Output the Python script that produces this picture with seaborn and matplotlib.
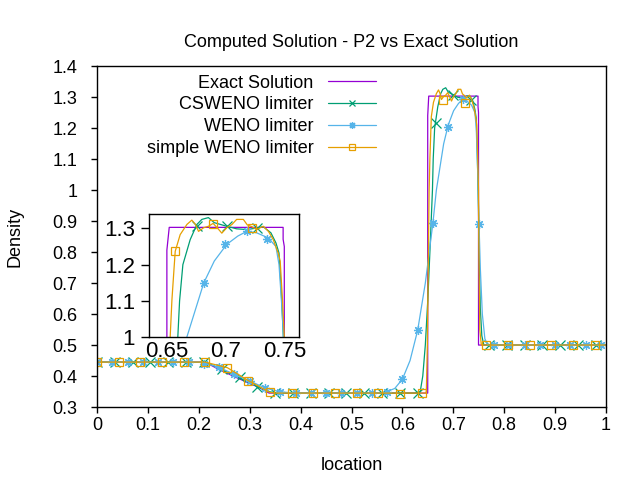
import matplotlib
matplotlib.use('Agg')
import matplotlib.pyplot as plt
from matplotlib.lines import Line2D
from matplotlib.ticker import FormatStrFormatter
import seaborn as sns

# exact solution
exact_x = [0.0, 0.212, 0.24, 0.27, 0.30, 0.32, 0.338, 0.6497, 0.6497, 0.6517, 0.7485, 0.7485, 0.7495, 0.7495, 1.0]
exact_y = [0.445, 0.445, 0.421, 0.398, 0.376, 0.362, 0.345, 0.345, 1.24, 1.303, 1.303, 1.27, 1.25, 0.5, 0.5]

# CSWENO limiter
csw_x = [0.0, 0.215, 0.24, 0.27, 0.30, 0.32, 0.34, 0.355, 0.625, 0.635, 0.640, 0.645, 0.650, 0.655,
         0.659, 0.6605, 0.6633, 0.6695, 0.6752, 0.6794, 0.685, 0.69, 0.7006, 0.709, 0.7176, 0.726,
         0.7316, 0.7381, 0.7424, 0.745, 0.747, 0.749, 0.751, 0.753, 0.756, 0.76, 1.0]
csw_y = [0.445, 0.444, 0.425, 0.401, 0.378, 0.362, 0.349, 0.345, 0.345, 0.35, 0.40, 0.50, 0.65, 0.84,
         1.0, 1.1, 1.2, 1.269, 1.311, 1.325, 1.33, 1.316, 1.306, 1.299, 1.297, 1.301,
         1.305, 1.288, 1.26, 1.232, 1.12, 0.98, 0.78, 0.62, 0.53, 0.5, 0.5]
csw_mx = [0.0, 0.035, 0.07, 0.105, 0.14, 0.175, 0.21, 0.245, 0.28, 0.315, 0.35, 0.385, 0.42, 0.455,
          0.49, 0.525, 0.56, 0.595, 0.63, 0.665, 0.70, 0.735, 0.77, 0.805, 0.84, 0.875, 0.91, 0.945, 0.98]
csw_my = [0.445, 0.445, 0.445, 0.445, 0.445, 0.445, 0.445, 0.423, 0.398, 0.366, 0.346, 0.345, 0.345, 0.345,
          0.345, 0.345, 0.345, 0.345, 0.345, 1.217, 1.306, 1.292, 0.5, 0.5, 0.5, 0.5, 0.5, 0.5, 0.5]
csw_ix = [0.675, 0.7006, 0.726]
csw_iy = [1.308, 1.306, 1.301]

# WENO limiter
weno_x = [0.0, 0.20, 0.215, 0.24, 0.27, 0.30, 0.33, 0.36, 0.39, 0.56, 0.57, 0.585, 0.60, 0.615, 0.63,
          0.645, 0.655, 0.66, 0.6667, 0.681, 0.69, 0.7006, 0.71, 0.7176, 0.726, 0.7358, 0.7424,
          0.745, 0.7475, 0.7505, 0.753, 0.757, 0.762, 0.768, 1.0]
weno_y = [0.445, 0.445, 0.44, 0.428, 0.405, 0.384, 0.362, 0.349, 0.345, 0.345, 0.35, 0.36, 0.39, 0.45, 0.548,
          0.70, 0.83, 0.895, 1.0, 1.149, 1.21, 1.256, 1.279, 1.292, 1.288, 1.274, 1.25,
          1.2, 1.08, 0.89, 0.75, 0.6, 0.52, 0.5, 0.5]
weno_mx = [0.0, 0.03, 0.06, 0.09, 0.12, 0.15, 0.18, 0.21, 0.24, 0.27, 0.30, 0.33, 0.36, 0.39, 0.42,
           0.45, 0.48, 0.51, 0.54, 0.57, 0.60, 0.63, 0.66, 0.69, 0.72, 0.75, 0.78, 0.81, 0.84,
           0.87, 0.90, 0.93, 0.96, 0.99]
weno_my = [0.445, 0.445, 0.445, 0.445, 0.445, 0.445, 0.445, 0.44, 0.428, 0.405, 0.384, 0.362, 0.349, 0.345, 0.345,
           0.345, 0.345, 0.345, 0.345, 0.35, 0.39, 0.548, 0.895, 1.204, 1.293, 0.89, 0.5, 0.5, 0.5,
           0.5, 0.5, 0.5, 0.5, 0.5]
weno_ix = [0.681, 0.6992, 0.7176, 0.7347]
weno_iy = [1.149, 1.257, 1.293, 1.27]

# simple WENO limiter
sim_x = [0.0, 0.212, 0.256, 0.2986, 0.34, 0.35, 0.645, 0.647, 0.649, 0.651, 0.6525, 0.654, 0.6558,
         0.6568, 0.661, 0.6667, 0.6709, 0.674, 0.6766, 0.681, 0.685, 0.689, 0.693, 0.6964, 0.7006,
         0.705, 0.709, 0.7147, 0.718, 0.7218, 0.726, 0.7316, 0.736, 0.740, 0.7443, 0.746, 0.748,
         0.7495, 0.7505, 0.752, 0.755, 1.0]
sim_y = [0.445, 0.445, 0.427, 0.384, 0.347, 0.345, 0.345, 0.35, 0.5, 0.8, 1.0, 1.103, 1.19,
         1.237, 1.283, 1.311, 1.323, 1.311, 1.292, 1.302, 1.306, 1.314, 1.30, 1.287, 1.302,
         1.311, 1.325, 1.325, 1.31, 1.305, 1.297, 1.306, 1.292, 1.27, 1.232, 1.21, 1.1,
         1.0, 0.75, 0.55, 0.5, 0.5]
sim_mx = [0.0, 0.0425, 0.085, 0.1275, 0.17, 0.2125, 0.255, 0.2975, 0.34, 0.3825, 0.425, 0.4675,
          0.51, 0.5525, 0.595, 0.6375, 0.68, 0.7225, 0.765, 0.8075, 0.85, 0.8925, 0.935, 0.9775]
sim_my = [0.445, 0.445, 0.445, 0.445, 0.445, 0.445, 0.427, 0.384, 0.347, 0.345, 0.345, 0.345,
          0.345, 0.345, 0.343, 0.346, 1.29, 1.282, 0.5, 0.5, 0.5, 0.5, 0.5, 0.5]
sim_ix = [0.6568, 0.689, 0.7218]
sim_iy = [1.237, 1.313, 1.302]

c_exact = '#9400d3'
c_csw = '#009e73'
c_weno = '#56b4e9'
c_sim = '#e69f00'

sns.set_theme(style='white')
plt.rcParams['font.family'] = ['Liberation Sans', 'DejaVu Sans']
plt.rcParams['axes.edgecolor'] = 'black'
plt.rcParams['axes.linewidth'] = 1.0
plt.rcParams['text.color'] = 'black'
plt.rcParams['axes.labelcolor'] = 'black'
plt.rcParams['xtick.color'] = 'black'
plt.rcParams['ytick.color'] = 'black'

series = [
    (exact_x, exact_y, None, None, None, None, c_exact, None, 'Exact Solution'),
    (csw_x, csw_y, csw_mx, csw_my, csw_ix, csw_iy, c_csw, 'x', 'CSWENO limiter'),
    (weno_x, weno_y, weno_mx, weno_my, weno_ix, weno_iy, c_weno, (8, 2, 0), 'WENO limiter'),
    (sim_x, sim_y, sim_mx, sim_my, sim_ix, sim_iy, c_sim, 's', 'simple WENO limiter'),
]

fig = plt.figure(figsize=(6.4, 4.8), dpi=100)
ax = fig.add_axes([0.1516, 0.152, 0.7953, 0.7104])
ins = fig.add_axes([0.2328, 0.2979, 0.2344, 0.2563])


def draw(a, inset):
    for lx, ly, mx, my, ix, iy, col, mk, lab in series:
        sns.lineplot(x=lx, y=ly, ax=a, color=col, lw=0.9, sort=False, estimator=None)
        if mk is None:
            continue
        px, py = (ix, iy) if inset else (mx, my)
        sns.lineplot(x=px, y=py, ax=a, color=col, linestyle='none', marker=mk,
                     markersize=6 if mk == 's' else 6.5, markerfacecolor='none',
                     markeredgecolor=col, markeredgewidth=0.9, sort=False, estimator=None)


draw(ax, False)
ax.set_xlim(0, 1)
ax.set_ylim(0.3, 1.4)
ax.set_xticks([i / 10 for i in range(11)])
ax.set_yticks([0.3 + i / 10 for i in range(12)])
ax.xaxis.set_major_formatter(FormatStrFormatter('%g'))
ax.yaxis.set_major_formatter(FormatStrFormatter('%g'))
ax.tick_params(axis='x', direction='out', length=4, width=1, pad=3.5, labelsize=13, color='black')
ax.tick_params(axis='y', direction='out', length=4, width=1, pad=10, labelsize=13, color='black')
ax.tick_params(bottom=True, left=True, top=False, right=False)
ax.set_xlabel('location', fontsize=13, labelpad=16)
ax.set_ylabel('Density', fontsize=13, labelpad=21)
ax.set_title('Computed Solution - P2 vs Exact Solution', fontsize=13, pad=13.5)

handles = []
for lx, ly, mx, my, ix, iy, col, mk, lab in series:
    handles.append(Line2D([], [], color=col, lw=0.9, marker=mk, markersize=5,
                          markerfacecolor='none', markeredgecolor=col, markeredgewidth=0.9))
ax.legend(handles, [s[-1] for s in series], loc='upper left', bbox_to_anchor=(0.098, 0.975),
          frameon=False, markerfirst=False, fontsize=13, borderpad=0, borderaxespad=0,
          handlelength=2.67, handletextpad=0.8, labelspacing=0.27)

draw(ins, True)
ins.set_facecolor('white')
ins.set_xlim(0.6345, 0.762)
ins.set_ylim(1.0, 1.34)
ins.set_xticks([0.65, 0.7, 0.75])
ins.set_yticks([1.0, 1.1, 1.2, 1.3])
ins.xaxis.set_major_formatter(FormatStrFormatter('%g'))
ins.yaxis.set_major_formatter(FormatStrFormatter('%g'))
ins.tick_params(axis='x', direction='out', length=0, pad=3, labelsize=16, color='black')
ins.tick_params(axis='y', direction='out', length=6, width=1, pad=4, labelsize=16, color='black')
ins.tick_params(bottom=True, left=True, top=False, right=False)
for sp in ins.spines.values():
    sp.set_color('black')
    sp.set_linewidth(1.0)

fig.savefig('out.png', dpi=100)
